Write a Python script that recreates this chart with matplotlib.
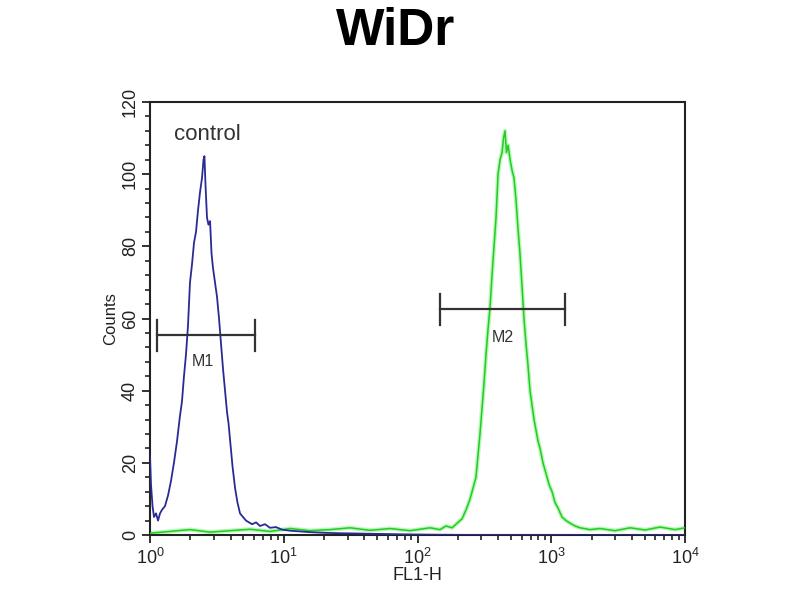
import matplotlib
matplotlib.use("Agg")
import matplotlib.pyplot as plt
import numpy as np
from matplotlib import font_manager
from matplotlib.ticker import LogLocator, MultipleLocator, NullFormatter

names = {f.name for f in font_manager.fontManager.ttflist}
narrow = 'Liberation Sans Narrow' if 'Liberation Sans Narrow' in names else 'Liberation Sans'
print("narrow font:", narrow)

plt.rcParams['font.family'] = [narrow, 'DejaVu Sans']
plt.rcParams['mathtext.default'] = 'regular'

# control histogram (blue): positions in decades of FL1-H, counts
blue_decade = [0.0, 0.0075, 0.019, 0.030, 0.045, 0.060, 0.075, 0.090, 0.112, 0.135,
               0.157, 0.179, 0.202, 0.224, 0.239, 0.254, 0.269, 0.284, 0.299, 0.314,
               0.329, 0.344, 0.359, 0.374, 0.389, 0.400, 0.407, 0.415, 0.426, 0.437,
               0.449, 0.460, 0.471, 0.486, 0.501, 0.516, 0.531, 0.546, 0.561, 0.576,
               0.587, 0.602, 0.617, 0.636, 0.654, 0.673, 0.695, 0.718, 0.740, 0.763,
               0.793, 0.822, 0.860, 0.897, 0.942, 0.987, 1.047, 1.121, 1.196, 1.308,
               1.421, 1.570, 1.720, 1.869, 2.093, 2.467, 4.0]
blue_counts = [22, 14, 8, 5, 6, 4, 6, 7, 8, 11,
               15, 20, 26, 33, 37, 44, 50, 58, 70, 75,
               81, 84, 90, 95, 99, 104, 105, 97, 88, 86,
               87, 78, 74, 70, 66, 60, 53, 46, 40, 34,
               31, 25, 19, 13, 9, 6, 5, 4, 3.5, 3,
               3.5, 2.5, 3, 2, 2.2, 1.5, 1.2, 1.0, 0.8, 0.6,
               0.5, 0.4, 0.3, 0.2, 0.1, 0, 0]

# stained histogram (green)
green_decade = [0.0, 0.150, 0.299, 0.449, 0.598, 0.748, 0.897, 1.047, 1.196, 1.346,
                1.495, 1.645, 1.794, 1.944, 2.093, 2.168, 2.213, 2.258, 2.303, 2.333,
                2.363, 2.393, 2.415, 2.437, 2.452, 2.467, 2.482, 2.497, 2.512, 2.527,
                2.542, 2.557, 2.572, 2.587, 2.602, 2.617, 2.632, 2.643, 2.654, 2.665,
                2.677, 2.692, 2.707, 2.721, 2.736, 2.751, 2.766, 2.781, 2.796, 2.811,
                2.826, 2.841, 2.856, 2.871, 2.886, 2.901, 2.916, 2.938, 2.961, 2.983,
                3.006, 3.028, 3.050, 3.080, 3.110, 3.140, 3.178, 3.215, 3.290, 3.364,
                3.477, 3.589, 3.701, 3.813, 3.925, 4.0]
green_counts = [0.5, 1.0, 1.5, 0.8, 1.2, 1.6, 1.0, 1.8, 1.2, 1.5,
                2.0, 1.3, 1.8, 1.2, 2.0, 1.5, 2.5, 2.0, 3.5, 4.5,
                7, 10, 13, 16, 22, 28, 35, 42, 50, 57,
                63, 72, 80, 88, 100, 104, 106, 110, 112, 106,
                108, 104, 101, 99, 93, 85, 78, 69, 60, 53,
                47, 40, 36, 32, 29, 26, 24, 20, 17, 14,
                12, 9, 7.5, 5, 4, 3.3, 2.5, 2, 1.5, 1.8,
                1.2, 2.0, 1.4, 2.2, 1.5, 2.0]

# marker gates
gate_names = ["M1", "M2"]
gate_lo = [1.12, 147]
gate_hi = [6.1, 1268]
gate_y = [55.3, 62.5]
gate_label_x = [2.49, 436]
gate_label_y = [48.1, 54.7]

fig = plt.figure(figsize=(8, 6), dpi=100)
ax = fig.add_axes([0.1875, 0.1083, 0.6688, 0.7217])

bx = 10 ** np.array(blue_decade)
gx = 10 ** np.array(green_decade)
ax.plot(gx, green_counts, color='#8ef08e', lw=3.0, alpha=0.6, zorder=2)
ax.plot(gx, green_counts, color='#22cc22', lw=1.1, zorder=3)
ax.plot(bx, blue_counts, color='#2a2a96', lw=1.3, zorder=4)

for lo, hi, y, nm, lx, ly in zip(gate_lo, gate_hi, gate_y, gate_names, gate_label_x, gate_label_y):
    ax.plot([lo, hi], [y, y], color='#333333', lw=1.6, zorder=5)
    ax.plot([lo, lo], [y - 4.3, y + 4.3], color='#333333', lw=1.6, zorder=5)
    ax.plot([hi, hi], [y - 4.3, y + 4.3], color='#333333', lw=1.6, zorder=5)
    ax.text(lx, ly, nm, ha='center', va='center', fontsize=11.5, color='#333333', zorder=6)

ax.text(2.67, 111, "control", ha='center', va='center', fontsize=16, color='#333333',
        family=['Liberation Sans', 'DejaVu Sans'])

ax.set_xscale('log')
ax.set_xlim(1, 1e4)
ax.set_ylim(0, 120)
ax.xaxis.set_major_locator(LogLocator(base=10, numticks=10))
ax.xaxis.set_minor_locator(LogLocator(base=10, subs=np.arange(2, 10), numticks=20))
ax.xaxis.set_minor_formatter(NullFormatter())
ax.yaxis.set_major_locator(MultipleLocator(20))
ax.yaxis.set_minor_locator(MultipleLocator(4))

ax.tick_params(axis='both', which='major', direction='out', length=6, width=1.3,
               colors='#222222', labelsize=13)
ax.tick_params(axis='both', which='minor', direction='out', length=3.5, width=1.2, colors='#222222')
ax.tick_params(axis='y', which='major', labelrotation=90, pad=2)
for lab in ax.get_yticklabels():
    lab.set_va('center')
for sp in ax.spines.values():
    sp.set_linewidth(1.5)
    sp.set_color('#222222')

ax.set_xlabel("FL1-H", fontsize=13, color='#222222', labelpad=-1)
ax.set_ylabel("Counts", fontsize=12, color='#222222', labelpad=3)

fig.text(0.494, 0.947, "WiDr", ha='center', va='center', fontsize=37, fontweight='bold',
         family=['Liberation Sans', 'DejaVu Sans'])

fig.savefig("out.png", dpi=100)
